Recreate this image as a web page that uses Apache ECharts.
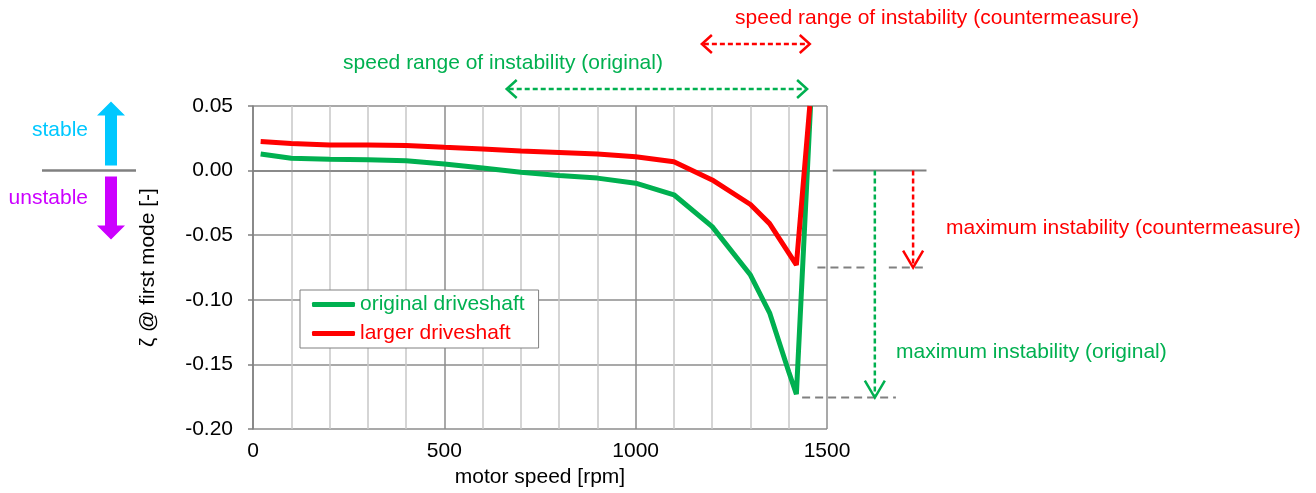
<!DOCTYPE html>
<html>
<head>
<meta charset="utf-8">
<script src="https://cdn.jsdelivr.net/npm/echarts@6/dist/echarts.min.js"></script>
<style>html,body{margin:0;padding:0;background:#fff}#c{width:1316px;height:493px}</style>
</head>
<body>
<div id="c"></div>
<script>
// ---- data ----
const rpmOriginal = [20, 100, 200, 300, 400, 500, 600, 700, 800, 900, 1000, 1100, 1200, 1300, 1350, 1400, 1420, 1457];
const zetaOriginal = [0.0128, 0.0095, 0.0088, 0.0085, 0.0077, 0.0052, 0.0021, -0.0013, -0.0038, -0.0058, -0.0097, -0.0187, -0.0433, -0.0808, -0.110, -0.1556, -0.173, 0.05];
const rpmLarger = [20, 100, 200, 300, 400, 500, 600, 700, 800, 900, 1000, 1100, 1200, 1300, 1350, 1420, 1455];
const zetaLarger = [0.0226, 0.021, 0.0198, 0.0198, 0.0195, 0.018, 0.0167, 0.0152, 0.0141, 0.0128, 0.0108, 0.0068, -0.0072, -0.0262, -0.041, -0.073, 0.05];
const seriesNames = ['original driveshaft', 'larger driveshaft'];
// annotation values (data units)
const rangeOriginal = [663, 1448];
const rangeCounter = [1173, 1455];
const maxLevelOriginal = -0.1756;
const maxLevelCounter = -0.075;
const refLineRpm = [1515, 1760];
const arrowRpmOriginal = 1625;
const arrowRpmCounter = 1725;
const gapOriginalLevel = [1435, 1760];
const gapCounterLevel = [1475, 1760];

const GREEN = '#00b050', RED = '#ff0000', GRAY = '#808080';
const FONT = "'Liberation Sans', Arial, sans-serif";
const FS = 21;

const chart = echarts.init(document.getElementById('c'));
const zip = (a, b) => a.map((v, i) => [v, b[i]]);

chart.setOption({
  animation: false,
  grid: {left: 253, right: 489, top: 106, bottom: 60, containLabel: false},
  legend: {
    orient: 'vertical', left: 300, top: 290,
    padding: [4, 14, 4, 12], itemGap: 8,
    itemWidth: 43, itemHeight: 5, icon: 'roundRect',
    borderColor: GRAY, borderWidth: 1, backgroundColor: '#fff',
    textStyle: {fontSize: FS, fontFamily: FONT},
    data: [
      {name: seriesNames[0], textStyle: {color: GREEN}},
      {name: seriesNames[1], textStyle: {color: RED}}
    ]
  },
  xAxis: {
    type: 'value', min: 0, max: 1500, interval: 500,
    name: 'motor speed [rpm]', nameLocation: 'middle', nameGap: 35,
    nameTextStyle: {fontSize: FS, fontFamily: FONT, color: '#000'},
    axisLine: {show: true, lineStyle: {color: GRAY, width: 1.5}},
    axisTick: {show: false},
    axisLabel: {fontSize: FS, fontFamily: FONT, color: '#000', margin: 12, formatter: v => String(v)},
    splitLine: {show: true, lineStyle: {color: '#8c8c8c', width: 1.5}},
    minorTick: {show: false, splitNumber: 5},
    minorSplitLine: {show: true, lineStyle: {color: '#c8c8c8', width: 1.5}}
  },
  yAxis: {
    type: 'value', min: -0.2, max: 0.05, interval: 0.05,
    name: 'ζ @ first mode [-]', nameLocation: 'middle', nameGap: 94,
    nameTextStyle: {fontSize: FS, fontFamily: FONT, color: '#000'},
    axisLine: {show: true, onZero: false, lineStyle: {color: GRAY, width: 1.5}},
    axisTick: {show: true, length: 5, lineStyle: {color: GRAY, width: 1.5}},
    axisLabel: {fontSize: FS, fontFamily: FONT, color: '#000', margin: 20,
      formatter: v => (Math.abs(v) < 1e-9 ? 0 : v).toFixed(2)},
    splitLine: {show: true, lineStyle: {color: '#8c8c8c', width: 1.5}}
  },
  series: [
    {name: seriesNames[0], type: 'line', data: zip(rpmOriginal, zetaOriginal), showSymbol: false,
     symbol: 'none', lineStyle: {color: GREEN, width: 5}, itemStyle: {color: GREEN}, clip: true, z: 3},
    {name: seriesNames[1], type: 'line', data: zip(rpmLarger, zetaLarger), showSymbol: false,
     symbol: 'none', lineStyle: {color: RED, width: 5}, itemStyle: {color: RED}, clip: true, z: 4}
  ]
});

const px = v => chart.convertToPixel({xAxisIndex: 0}, v);
const py = v => chart.convertToPixel({yAxisIndex: 0}, v);
const y0 = py(0), yTop = py(0.05);
const g = [];
const dashLine = (x1, y1, x2, y2, color, dash, w) => g.push({type: 'line', shape: {x1, y1, x2, y2},
  style: {stroke: color, lineWidth: w || 2.5, lineDash: dash}, z: 10});
const chevron = (pts, color) => g.push({type: 'polyline', shape: {points: pts},
  style: {stroke: color, lineWidth: 2.5, fill: null}, z: 10});
const text = (t, x, y, color, align) => g.push({type: 'text', x, y, z: 10,
  style: {text: t, fill: color, fontSize: FS, fontFamily: FONT, align: align || 'center', verticalAlign: 'middle'}});

// horizontal double arrows (speed ranges)
function hArrow(range, y, color) {
  const xa = px(range[0]), xb = px(range[1]);
  dashLine(xa + 2, y, xb - 2, y, color, [5, 3]);
  chevron([[xa + 10, y - 9], [xa, y], [xa + 10, y + 9]], color);
  chevron([[xb - 10, y - 9], [xb, y], [xb - 10, y + 9]], color);
}
hArrow(rangeOriginal, yTop - 17, GREEN);
hArrow(rangeCounter, yTop - 62, RED);
text('speed range of instability (original)', 503, yTop - 43, GREEN);
text('speed range of instability (countermeasure)', 937, yTop - 88, RED);

// right side: zero reference and maximum instability arrows
g.push({type: 'line', shape: {x1: px(refLineRpm[0]), y1: y0, x2: px(refLineRpm[1]), y2: y0},
  style: {stroke: GRAY, lineWidth: 2}, z: 9});
const yC = py(maxLevelCounter), yO = py(maxLevelOriginal);
const xGa = px(arrowRpmOriginal);
dashLine(px(gapCounterLevel[0]), yC, xGa - 8, yC, GRAY, [8, 5], 2);
dashLine(xGa + 14, yC, px(gapCounterLevel[1]), yC, GRAY, [8, 5], 2);
dashLine(px(gapOriginalLevel[0]), yO, px(1680), yO, GRAY, [8, 5], 2);
function vArrow(rpm, yEnd, color) {
  const x = px(rpm);
  dashLine(x, y0, x, yEnd - 2, color, [5, 3]);
  chevron([[x - 10, yEnd - 17], [x, yEnd], [x + 10, yEnd - 17]], color);
}
vArrow(arrowRpmCounter, yC, RED);
vArrow(arrowRpmOriginal, yO, GREEN);
text('maximum instability (countermeasure)', 946, py(-0.0445), RED, 'left');
text('maximum instability (original)', 896, py(-0.1405), GREEN, 'left');

// left side: stable / unstable indicator
g.push({type: 'line', shape: {x1: 42, y1: y0, x2: 136, y2: y0}, style: {stroke: GRAY, lineWidth: 2.5}, z: 9});
g.push({type: 'polygon', shape: {points: [[105, y0 - 5], [105, y0 - 55], [97, y0 - 55], [111, y0 - 69], [125, y0 - 55], [117, y0 - 55], [117, y0 - 5]]},
  style: {fill: '#00c8ff'}, z: 9});
g.push({type: 'polygon', shape: {points: [[105, y0 + 6], [105, y0 + 55], [97, y0 + 55], [111, y0 + 69], [125, y0 + 55], [117, y0 + 55], [117, y0 + 6]]},
  style: {fill: '#cc00ff'}, z: 9});
text('stable', 88, y0 - 40, '#00c8ff', 'right');
text('unstable', 88, y0 + 28, '#cc00ff', 'right');

chart.setOption({graphic: g});
</script>
</body>
</html>
